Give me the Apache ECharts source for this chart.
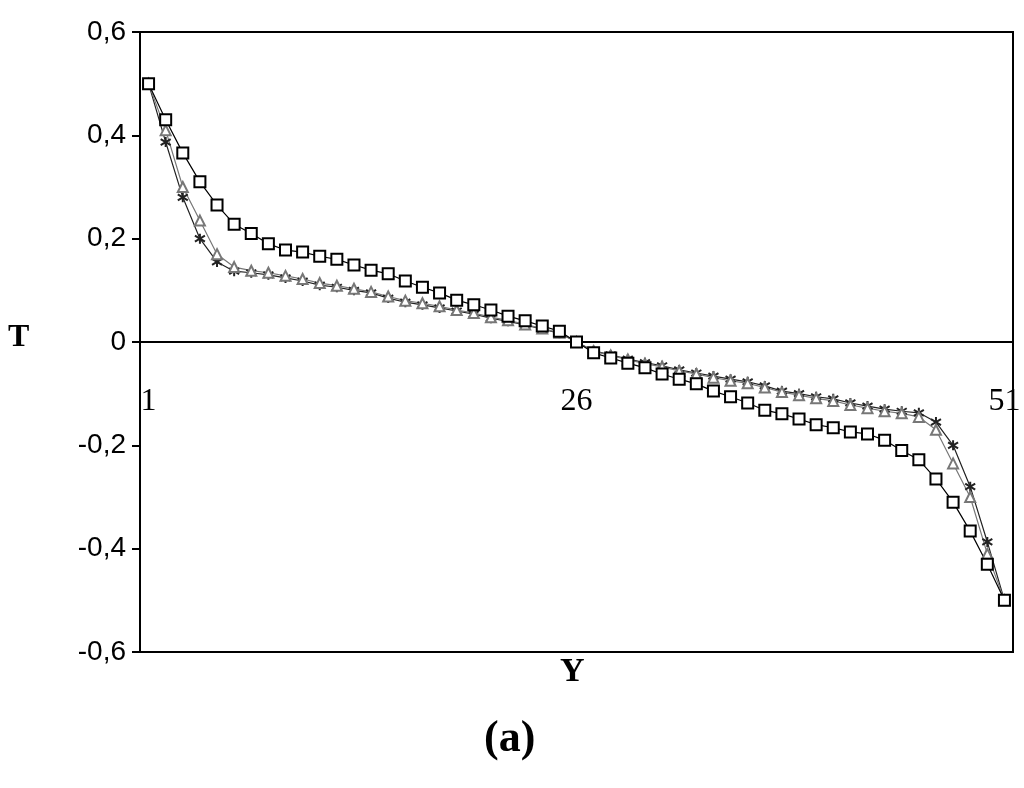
<!DOCTYPE html>
<html>
<head>
<meta charset="utf-8">
<script src="https://cdn.jsdelivr.net/npm/echarts@6/dist/echarts.min.js"></script>
<style>html,body{margin:0;padding:0;background:#fff}#chart{width:1024px;height:788px}</style>
</head>
<body>
<div id="chart"></div>
<script>
// half profiles (points 1..25), the other half is mirrored (antisymmetric about 26)
const squareHalf = [0.5, 0.43, 0.366, 0.31, 0.265, 0.228, 0.21, 0.19, 0.178, 0.174, 0.166, 0.16, 0.149, 0.139, 0.132, 0.118, 0.106, 0.095, 0.081, 0.072, 0.062, 0.05, 0.041, 0.031, 0.021];
const triangleHalf = [0.5, 0.41, 0.3, 0.235, 0.17, 0.145, 0.138, 0.134, 0.128, 0.122, 0.114, 0.109, 0.103, 0.097, 0.088, 0.08, 0.075, 0.069, 0.062, 0.056, 0.048, 0.042, 0.034, 0.026, 0.018];
const starHalf = [0.5, 0.387, 0.28, 0.2, 0.155, 0.137, 0.134, 0.13, 0.124, 0.118, 0.11, 0.106, 0.1, 0.095, 0.085, 0.077, 0.072, 0.066, 0.06, 0.054, 0.046, 0.04, 0.033, 0.025, 0.017];
const categories = [];
for (let i = 1; i <= 51; i++) categories.push(String(i));
const yTicks = [-0.6, -0.4, -0.2, 0, 0.2, 0.4, 0.6];

function full(half) {
  return half.concat([0], half.slice().reverse().map(v => -v));
}

const starPath = 'path://M5,0L5,10M0,2L10,8M0,8L10,2';

const chart = echarts.init(document.getElementById('chart'));
const mk = (name, data, symbol, size, color) => ({
  name: name, type: 'line', data: full(data), symbol: symbol, symbolSize: size,
  showAllSymbol: true,
  lineStyle: { color: color, width: 1.2 },
  itemStyle: { color: '#fff', borderColor: color, borderWidth: 2 }
});

chart.setOption({
  animation: false,
  grid: { left: 140, right: 11, top: 32, bottom: 136, show: true, borderColor: '#000', borderWidth: 2 },
  xAxis: {
    type: 'category', data: categories, boundaryGap: true,
    axisLine: { onZero: true, lineStyle: { color: '#000', width: 2 } },
    axisTick: { show: false },
    axisLabel: {
      interval: (idx) => idx === 0 || idx === 25 || idx === 50,
      margin: 48, fontFamily: 'Liberation Serif', fontSize: 32, color: '#000'
    }
  },
  yAxis: {
    type: 'value', min: -0.6, max: 0.6, interval: 0.2,
    splitLine: { show: false },
    axisLine: { show: true, onZero: false, lineStyle: { color: '#000', width: 2 } },
    axisTick: { show: true, length: 8, lineStyle: { color: '#000', width: 2 } },
    axisLabel: {
      margin: 14, fontFamily: 'Liberation Sans', fontSize: 28, color: '#000',
      formatter: v => {
        const r = Math.round(v * 10) / 10;
        return r === 0 ? '0' : r.toFixed(1).replace('.', ',');
      }
    }
  },
  graphic: [
    { type: 'text', left: 8, top: 322, style: { text: 'T', font: 'bold 32px "Liberation Serif"', fill: '#000' } },
    { type: 'text', left: 560, top: 655, style: { text: 'Y', font: 'bold 34px "Liberation Serif"', fill: '#000' } },
    { type: 'text', left: 484, top: 718, style: { text: '(a)', font: 'bold 44px "Liberation Serif"', fill: '#000' } }
  ],
  series: [
    mk('stars', starHalf, starPath, 10, '#222'),
    mk('triangles', triangleHalf, 'triangle', 10, '#777'),
    mk('squares', squareHalf, 'rect', 11, '#000')
  ]
});

// the x labels sit just below the zero line in the reference
chart.setOption({ xAxis: { axisLabel: { margin: -266 } } });
</script>
</body>
</html>
